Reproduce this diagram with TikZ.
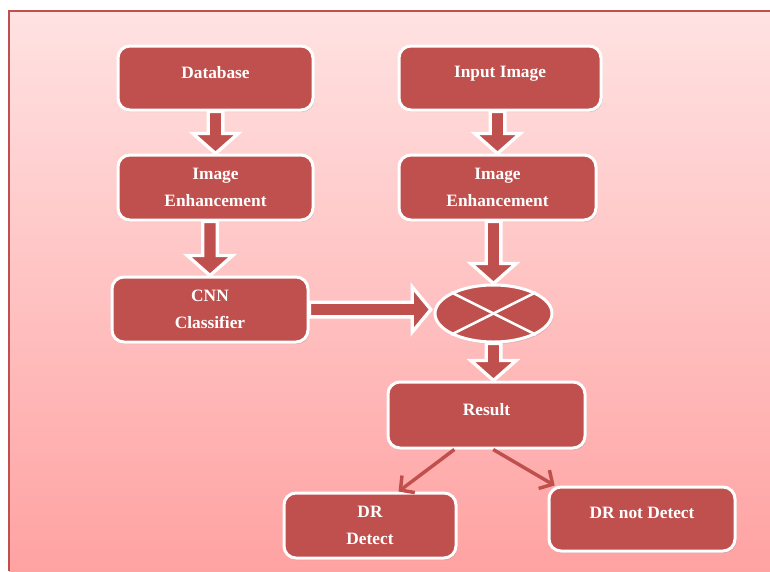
\documentclass[tikz,border=0pt]{standalone}
\usepackage{fontspec}
\setmainfont{Liberation Serif}
\usetikzlibrary{calc,shapes.geometric,arrows.meta,shadows}

\definecolor{boxred}{HTML}{C0504D}
\definecolor{bgtop}{HTML}{FFE2E2}
\definecolor{bgbot}{HTML}{FFA2A2}
\definecolor{edgered}{HTML}{C0504D}

\tikzset{
  blockbox/.style={rounded corners=9pt, fill=boxred, draw=white, line width=2.25pt,
    text=white, font=\fontsize{13}{20}\selectfont\bfseries, align=center, inner sep=0pt,
    drop shadow={opacity=0.25, shadow xshift=1pt, shadow yshift=-1.5pt}},
  onetext/.style={text depth=9pt},
  mixer/.style={ellipse, fill=boxred, draw=white, line width=2.25pt, inner sep=0pt,
    drop shadow={opacity=0.25, shadow xshift=1pt, shadow yshift=-1.5pt}},
  fatarrow/.style={fill=boxred, draw=white, line width=2.5pt, line join=miter},
  thinarrow/.style={draw=boxred, line width=2.6pt, -{Straight Barb[length=7.5pt, width=16pt, line width=2.6pt]}}
}

% block arrow pointing down, from #1 to #2 (y runs downward here)
\newcommand{\fatdown}[2]{%
  \path[fatarrow] let \p1=(#1), \p2=(#2) in
    (\x2-5.5pt,\y1) -- (\x2-5.5pt,\y2-15pt) -- (\x2-17pt,\y2-15pt) -- (\x2,\y2)
    -- (\x2+17pt,\y2-15pt) -- (\x2+5.5pt,\y2-15pt) -- (\x2+5.5pt,\y1) -- cycle;}
% block arrow pointing right, from #1 to #2
\newcommand{\fatright}[2]{%
  \path[fatarrow] let \p1=(#1), \p2=(#2) in
    (\x1,\y1+5.5pt) -- (\x2-16pt,\y1+5.5pt) -- (\x2-16pt,\y1+17pt) -- (\x2-2pt,\y1)
    -- (\x2-16pt,\y1-17pt) -- (\x2-16pt,\y1-5.5pt) -- (\x1,\y1-5.5pt) -- cycle;}

\begin{document}
\begin{tikzpicture}[x=0.75pt,y=0.75pt,yscale=-1,xscale=1]
	\useasboundingbox (0,0) rectangle (770,571);
	
	%Shape: Background
	\shade[top color=bgtop, bottom color=bgbot] (9,11) rectangle (770,571);
	\draw[edgered, line width=1pt] (9,571) -- (9,11) -- (770,11);
	
	%Shape: Boxes
	\node[blockbox, onetext, minimum width=146.25pt, minimum height=48pt] (db) at (215.5,78) {Database};
	\node[blockbox, onetext, minimum width=151.5pt, minimum height=48pt] (inp) at (500,78) {Input Image};
	\node[blockbox, minimum width=146.25pt, minimum height=48.75pt] (enhl) at (215.5,187.5) {Image\\Enhancement};
	\node[blockbox, minimum width=147.75pt, minimum height=48.75pt] (enhr) at (497.5,187.5) {Image\\Enhancement};
	\node[blockbox, minimum width=147pt, minimum height=48.75pt] (cnn) at (210,309.5) {CNN\\Classifier};
	\node[blockbox, onetext, minimum width=147.75pt, minimum height=49.5pt] (res) at (486.5,415) {Result};
	\node[blockbox, minimum width=129pt, minimum height=48.75pt] (drd) at (370,525.5) {DR\\Detect};
	\node[blockbox, onetext, minimum width=139.5pt, minimum height=48pt] (drn) at (642,519) {DR not Detect};
	
	%Shape: Mixer
	\node[mixer, minimum width=87.75pt, minimum height=42.75pt] (mix) at (493.5,313.5) {};
	\draw[white, line width=1.9pt] (mix.north west) -- (mix.south east);
	\draw[white, line width=1.9pt] (mix.north east) -- (mix.south west);
	\coordinate (restop) at (mix |- res.north);
	
	%Block Arrows
	\fatdown{db.south}{enhl.north}
	\fatdown{inp.south}{enhr.north}
	\fatdown{enhl.south}{cnn.north}
	\fatdown{enhr.south}{mix.north}
	\fatdown{mix.south}{restop}
	\fatright{cnn.east}{mix.west}
	
	%Straight Lines
	\draw[thinarrow] (res.227) -- (drd.50);
	\draw[thinarrow] (res.281) -- (drn.159);
\end{tikzpicture}
\end{document}
